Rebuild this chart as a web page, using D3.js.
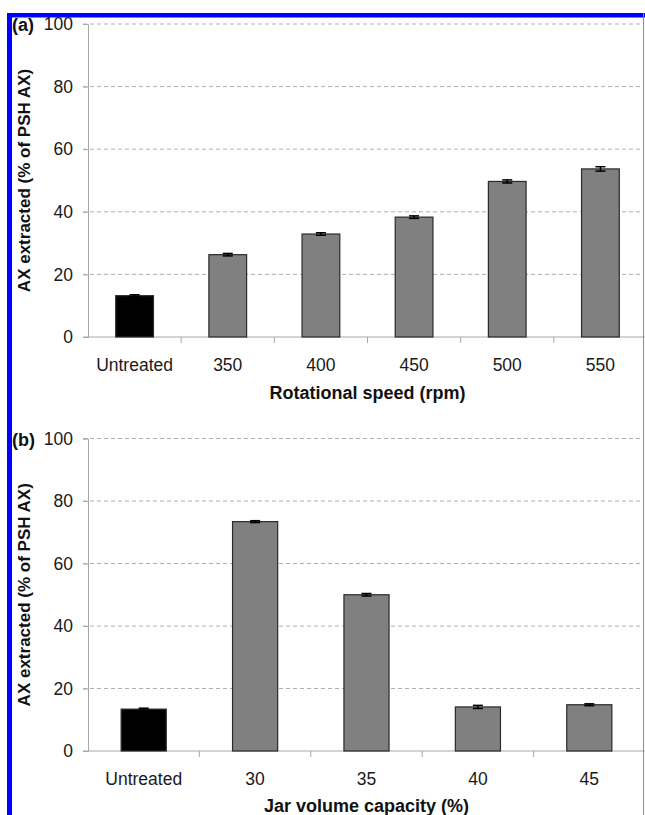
<!DOCTYPE html>
<html>
<head>
<meta charset="utf-8">
<script src="https://cdn.jsdelivr.net/npm/d3@7"></script>
<style>
  body { margin: 0; background: #fff; }
  svg { display: block; font-family: "Liberation Sans", Arial, sans-serif; }
</style>
</head>
<body>
<div class="Figure"></div>
<script>
// panel (a): rotational speed
const categoriesA = ["Untreated", "350", "400", "450", "500", "550"]
const valuesA = [13.2, 26.3, 32.9, 38.3, 49.7, 53.7]
const errorsA = [0.3, 0.4, 0.4, 0.4, 0.5, 0.7]

// panel (b): jar volume capacity
const categoriesB = ["Untreated", "30", "35", "40", "45"]
const valuesB = [13.4, 73.4, 50.0, 14.1, 14.8]
const errorsB = [0.3, 0.3, 0.4, 0.5, 0.3]

const yTicks = [0, 20, 40, 60, 80, 100]

const width = 645
const height = 815

const svg = d3.select(".Figure").append("svg")
    .attr("width", width)
    .attr("height", height)
    .attr("viewBox", [0, 0, width, height])

const drawPanel = (p) => {
  let data = p.categories.map((c, i) => ({name: c, value: p.values[i], err: p.errors[i]}))

  let x = d3.scaleBand()
    .domain(p.categories)
    .range([p.left, p.right])
    .paddingInner(0.595)
    .paddingOuter(0.2975)

  let y = d3.scaleLinear()
    .domain([0, 100])
    .range([p.bottom, p.top])

  const g = svg.append("g")

  // dashed grid (skip 0, that's the axis)
  g.append("g")
    .selectAll("line")
    .data(yTicks.filter(d => d > 0))
    .join("line")
      .attr("x1", p.left - 5)
      .attr("x2", 642)
      .attr("y1", d => y(d))
      .attr("y2", d => y(d))
      .attr("stroke", "#b0b0b0")
      .attr("stroke-width", 1)
      .attr("stroke-dasharray", "4,3")

  // y axis
  let yAxis = d3.axisLeft(y).tickValues(yTicks).tickSize(5).tickPadding(10)
  g.append("g")
      .attr("transform", `translate(${p.left},0)`)
      .call(yAxis)
      .call(g => g.select(".domain").attr("stroke", "#a8a8a8"))
      .call(g => g.selectAll(".tick line").attr("stroke", "#a8a8a8"))
      .call(g => g.selectAll(".tick text")
        .attr("font-size", 17.5)
        .attr("fill", "#1a1a1a")
        .attr("font-family", "Liberation Sans, Arial, sans-serif"))

  // x axis: line + ticks at category boundaries
  g.append("line")
    .attr("x1", p.left - 5)
    .attr("x2", 645)
    .attr("y1", y(0))
    .attr("y2", y(0))
    .attr("stroke", "#a8a8a8")

  g.append("g")
    .selectAll("line")
    .data(p.categories.slice(0, -1))
    .join("line")
      .attr("x1", d => x(d) + x.bandwidth() / 2 + x.step() / 2)
      .attr("x2", d => x(d) + x.bandwidth() / 2 + x.step() / 2)
      .attr("y1", y(0))
      .attr("y2", y(0) + 6)
      .attr("stroke", "#a8a8a8")

  g.append("g")
    .selectAll("text")
    .data(p.categories)
    .join("text")
      .attr("x", d => x(d) + x.bandwidth() / 2)
      .attr("y", y(0) + 34)
      .attr("text-anchor", "middle")
      .attr("font-size", 17.5)
      .attr("fill", "#1a1a1a")
      .text(d => d)

  // bars
  g.append("g")
    .selectAll("rect")
    .data(data)
    .join("rect")
      .attr("x", d => x(d.name))
      .attr("width", x.bandwidth())
      .attr("y", d => y(d.value))
      .attr("height", d => y(0) - y(d.value))
      .attr("fill", (d, i) => i === 0 ? "#000" : "#808080")
      .attr("stroke", "#2a2a2a")
      .attr("stroke-width", 1.2)

  // error bars
  let eb = g.append("g").attr("stroke", "#000").attr("stroke-width", 1.5)
  eb.selectAll(".stem")
    .data(data)
    .join("line")
      .attr("x1", d => x(d.name) + x.bandwidth() / 2)
      .attr("x2", d => x(d.name) + x.bandwidth() / 2)
      .attr("y1", d => y(d.value - d.err))
      .attr("y2", d => y(d.value + d.err))
  eb.selectAll(".capTop")
    .data(data)
    .join("line")
      .attr("x1", d => x(d.name) + x.bandwidth() / 2 - 5)
      .attr("x2", d => x(d.name) + x.bandwidth() / 2 + 5)
      .attr("y1", d => y(d.value + d.err))
      .attr("y2", d => y(d.value + d.err))
  eb.selectAll(".capBot")
    .data(data)
    .join("line")
      .attr("x1", d => x(d.name) + x.bandwidth() / 2 - 5)
      .attr("x2", d => x(d.name) + x.bandwidth() / 2 + 5)
      .attr("y1", d => y(d.value - d.err))
      .attr("y2", d => y(d.value - d.err))

  // axis titles
  g.append("text")
    .attr("text-anchor", "middle")
    .attr("x", (p.left + p.right) / 2)
    .attr("y", y(0) + p.titleGap)
    .attr("font-size", 18)
    .attr("font-weight", "bold")
    .attr("fill", "#111")
    .text(p.xTitle)

  g.append("text")
    .attr("text-anchor", "middle")
    .attr("transform", `translate(30,${(p.top + p.bottom) / 2})rotate(-90)`)
    .attr("font-size", 17)
    .attr("font-weight", "bold")
    .attr("fill", "#111")
    .text("AX extracted (% of PSH AX)")

  // panel letter
  g.append("text")
    .attr("x", 12)
    .attr("y", p.top + 7)
    .attr("font-size", 18)
    .attr("font-weight", "bold")
    .attr("fill", "#111")
    .text(p.letter)
}

drawPanel({categories: categoriesA, values: valuesA, errors: errorsA,
  left: 88, right: 647, top: 24, bottom: 337, titleGap: 62,
  xTitle: "Rotational speed (rpm)", letter: "(a)"})

drawPanel({categories: categoriesB, values: valuesB, errors: errorsB,
  left: 88, right: 645, top: 438.5, bottom: 751, titleGap: 61,
  xTitle: "Jar volume capacity (%)", letter: "(b)"})

// blue frame
svg.append("rect").attr("x", 7).attr("y", 13).attr("width", 5).attr("height", height - 13).attr("fill", "#0000ff")
svg.append("rect").attr("x", 7).attr("y", 13).attr("width", width - 7).attr("height", 4.5).attr("fill", "#0000ff")
svg.append("line").attr("x1", 643.5).attr("x2", 643.5).attr("y1", 13).attr("y2", height)
  .attr("stroke", "#7f7fff").attr("stroke-width", 1)
</script>
</body>
</html>
